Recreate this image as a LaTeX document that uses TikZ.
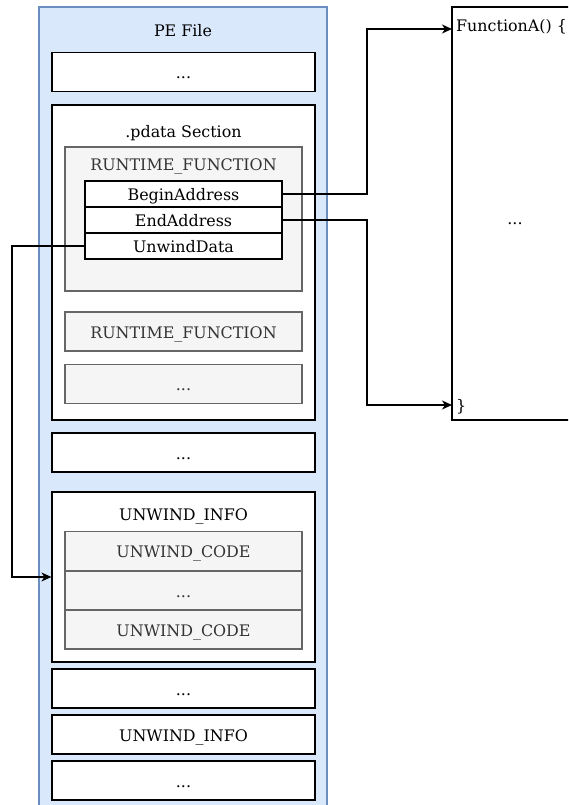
\documentclass[tikz,border=0pt]{standalone}
\usepackage{fontspec}
\setmainfont{DejaVu Serif}
\usetikzlibrary{arrows.meta,calc}
\definecolor{peFill}{HTML}{DAE8FC}
\definecolor{peLine}{HTML}{6C8EBF}
\definecolor{grFill}{HTML}{F5F5F5}
\definecolor{grLine}{HTML}{666666}
\definecolor{grText}{HTML}{333333}
\tikzset{
  lbl/.style={font=\fontsize{15.9}{19}\selectfont, inner sep=0pt, text height=13pt, text depth=0pt},
  wbox/.style={lbl, draw=black, fill=white, line width=1.2pt, minimum width=263pt, minimum height=39pt},
  gbox/.style={lbl, draw=grLine, fill=grFill, text=grText, line width=1.2pt, minimum width=237pt, minimum height=39pt},
  field/.style={lbl, draw=black, fill=white, line width=1.2pt, minimum width=197pt, minimum height=26pt},
  conn/.style={draw=black, line width=1.2pt, -{Stealth[length=10pt,width=9pt,inset=3pt]}},
}
\begin{document}
\begin{tikzpicture}[x=1pt,y=-1pt]
\useasboundingbox (0,0) rectangle (568,805);
\clip (0,0) rectangle (568,805);

% PE file container
\node[draw=peLine, fill=peFill, line width=1.2pt, minimum width=288pt, minimum height=806pt, inner sep=0pt] (pe) at (183,410) {};
\node[lbl] (peTitle) at (183,30) {PE File};

% top filler
\node[wbox] (top) at (183.5,72) {...};

% .pdata section
\node[wbox, minimum height=315pt] (pdata) at (183.5,262.5) {};
\node[lbl] (pdataTitle) at (183.5,131) {.pdata Section};

\node[gbox, minimum height=144pt] (rf1) at (183.5,219) {};
\node[lbl, text=grText] (rf1Title) at (183.5,164) {RUNTIME\_FUNCTION};
\node[field] (begin) at (183.5,194) {BeginAddress};
\node[field] (endaddr) at (183.5,220) {EndAddress};
\node[field] (uwd) at (183.5,246) {UnwindData};

\node[gbox] (rf2) at (183.5,331.5) {RUNTIME\_FUNCTION};
\node[gbox] (rf3) at (183.5,384) {...};

\node[wbox] (mid) at (183.5,452.5) {...};

% UNWIND_INFO with its codes
\node[wbox, minimum height=170pt] (ui) at (183.5,577) {};
\node[lbl] (uiTitle) at (183.5,514) {UNWIND\_INFO};
\node[gbox] (uc1) at (183.5,551) {UNWIND\_CODE};
\node[gbox] (uc2) at (183.5,590.5) {...};
\node[gbox] (uc3) at (183.5,629.5) {UNWIND\_CODE};

\node[wbox] (b1) at (183.5,688.5) {...};
\node[wbox] (ui2) at (183.5,734.5) {UNWIND\_INFO};
\node[wbox] (b2) at (183.5,780.5) {...};

% function body
\node[draw=black, fill=white, line width=1.2pt, minimum width=130pt, minimum height=413pt, inner sep=0pt] (func) at (517,213.5) {};
\node[lbl, anchor=west] (fHead) at (456,25) {FunctionA() \{};
\node[lbl] (fBody) at (515,218) {...};
\node[lbl, anchor=west] (fTail) at (456,405) {\}};

\coordinate (faIn) at (452,29);
\coordinate (faOut) at (452,405);
\coordinate (jr) at (367,0);
\coordinate (jl) at (12,0);

% connectors
\draw[conn] (begin.east) -| (jr |- faIn) -- (faIn);
\draw[conn] (endaddr.east) -| (jr |- faOut) -- (faOut);
\draw[conn] (uwd.west) -| (jl |- ui.west) -- (ui.west);
\end{tikzpicture}
\end{document}
